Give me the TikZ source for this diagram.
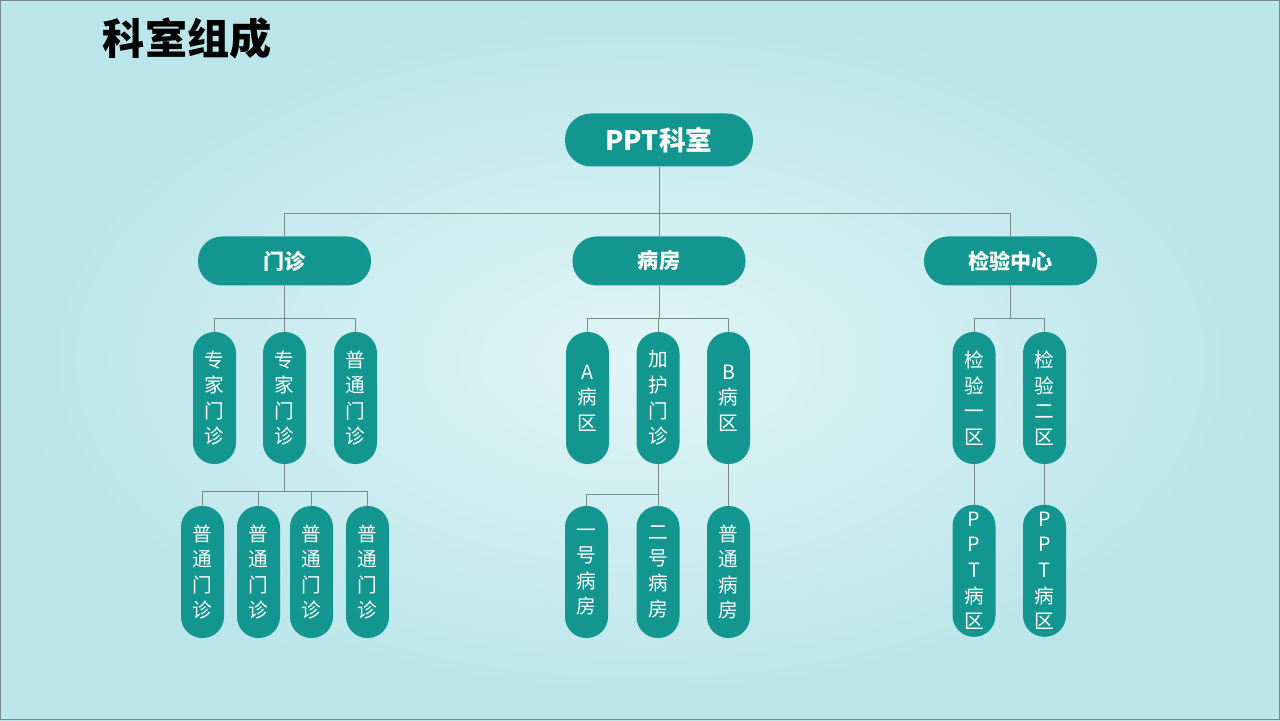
\documentclass[tikz,border=0pt]{standalone}
\usepackage{fontspec}
\setmainfont{Noto Sans CJK SC}
\usetikzlibrary{calc}
\definecolor{tealpill}{RGB}{19,150,143}
\definecolor{bgin}{RGB}{224,245,247}
\definecolor{bgout}{RGB}{186,229,234}
\definecolor{linegray}{RGB}{122,136,138}

\begin{document}
\begin{tikzpicture}[
  pill/.style={draw=none,fill=tealpill,text=white,inner sep=0pt,align=center},
  toppill/.style={pill,minimum width=4.700cm,minimum height=1.325cm,rounded corners=0.650cm,font=\fontsize{19}{23}\selectfont\bfseries},
  midpill/.style={pill,minimum width=4.325cm,minimum height=1.225cm,rounded corners=0.600cm,font=\fontsize{15}{18}\selectfont\bfseries},
  lowpill/.style={pill,minimum width=1.075cm,minimum height=3.300cm,rounded corners=0.530cm,font=\fontsize{14}{18.2}\selectfont},
  link/.style={draw=linegray,line width=0.6pt}]
%
% background:
\useasboundingbox (0.000,0.000) rectangle (32.000,18.000);
\shade[inner color=bgin,outer color=bgout] (0.000,0.000) rectangle (32.000,18.000);
\draw[color=linegray,line width=0.8pt] (0.010,0.010) rectangle (31.990,17.990);

\node[anchor=west,font=\fontsize{30}{36}\selectfont\bfseries] (title) at (2.450,17.050) {科室组成};
%
% bus coordinates:
\coordinate (bus0) at (16.475,12.675);
\coordinate (busmz) at (7.1125,10.050);
\coordinate (busbf) at (16.475,10.050);
\coordinate (busjy) at (25.2625,10.050);
\coordinate (busmz2) at (7.1125,5.725);
\coordinate (busbf2) at (16.450,5.650);
%
% level 1 and 2:
\node[toppill] (ppt) at (16.475,14.500) {PPT科室};
\node[midpill] (mz) at (7.1125,11.475) {门诊};
\node[midpill] (bf) at (16.475,11.475) {病房};
\node[midpill] (jy) at (25.2625,11.475) {检验中心};
%
% level 3:
\node[lowpill] (zj1) at (5.3625,8.050) {专\\家\\门\\诊};
\node[lowpill] (zj2) at (7.1125,8.050) {专\\家\\门\\诊};
\node[lowpill] (pt0) at (8.8875,8.050) {普\\通\\门\\诊};
\node[lowpill] (aq) at (14.6875,8.050) {A\\病\\区};
\node[lowpill] (jh) at (16.450,8.050) {加\\护\\门\\诊};
\node[lowpill] (bq) at (18.2125,8.050) {B\\病\\区};
\node[lowpill] (jy1) at (24.350,8.050) {检\\验\\一\\区};
\node[lowpill] (jy2) at (26.1125,8.050) {检\\验\\二\\区};
%
% level 4:
\node[lowpill] (pt1) at (5.0625,3.700) {普\\通\\门\\诊};
\node[lowpill] (pt2) at (6.4625,3.700) {普\\通\\门\\诊};
\node[lowpill] (pt3) at (7.7875,3.700) {普\\通\\门\\诊};
\node[lowpill] (pt4) at (9.1875,3.700) {普\\通\\门\\诊};
\node[lowpill] (yh) at (14.6625,3.700) {一\\号\\病\\房};
\node[lowpill] (eh) at (16.450,3.700) {二\\号\\病\\房};
\node[lowpill] (pb) at (18.2125,3.700) {普\\通\\病\\房};
\node[lowpill] (pq1) at (24.350,3.730) {P\\P\\T\\病\\区};
\node[lowpill] (pq2) at (26.1125,3.730) {P\\P\\T\\病\\区};
%
% links:
\draw[link] (ppt.south) -- (bus0);
\draw[link] (bus0) -| (mz.north);
\draw[link] (bus0) -| (jy.north);
\draw[link] (bus0) -- (bf.north);

\draw[link] (mz.south) -- (busmz);
\draw[link] (busmz) -| (zj1.north);
\draw[link] (busmz) -- (zj2.north);
\draw[link] (busmz) -| (pt0.north);

\draw[link] (bf.south) -- (busbf);
\draw[link] (busbf) -| (aq.north);
\draw[link] (busbf) -| (jh.north);
\draw[link] (busbf) -| (bq.north);

\draw[link] (jy.south) -- (busjy);
\draw[link] (busjy) -| (jy1.north);
\draw[link] (busjy) -| (jy2.north);

\draw[link] (zj2.south) -- (busmz2);
\draw[link] (busmz2) -| (pt1.north);
\draw[link] (busmz2) -| (pt2.north);
\draw[link] (busmz2) -| (pt3.north);
\draw[link] (busmz2) -| (pt4.north);

\draw[link] (jh.south) -- (busbf2);
\draw[link] (busbf2) -| (yh.north);
\draw[link] (busbf2) -- (eh.north);
\draw[link] (bq.south) -- (pb.north);

\draw[link] (jy1.south) -- (pq1.north);
\draw[link] (jy2.south) -- (pq2.north);

\end{tikzpicture}
\end{document}
